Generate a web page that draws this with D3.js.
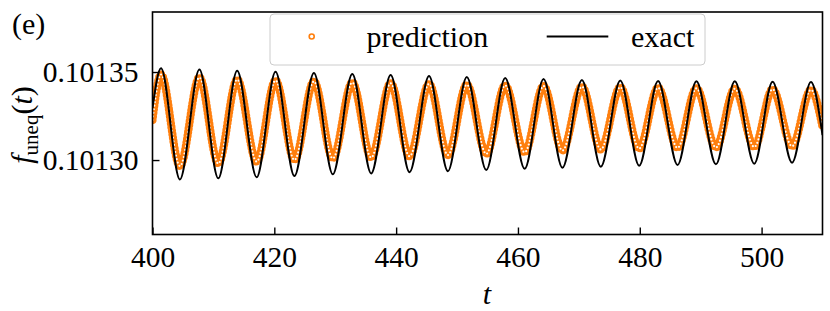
<!DOCTYPE html>
<html>
<head>
<meta charset="utf-8">
<script src="https://d3js.org/d3.v7.min.js"></script>
<style>
  body { margin: 0; background: #fff; }
</style>
</head>
<body>
<div id="chart"></div>
<script>
  // tick values
  const xTicks = [400, 420, 440, 460, 480, 500];
  const yTicks = [0.10130, 0.10135];

  // times of the maxima / minima
  const peakT = [401.4, 407.7, 413.9, 420.2, 426.5, 432.8, 439.1, 445.4, 451.6,
                 457.9, 464.2, 470.5, 476.8, 483.0, 489.3, 495.6, 501.8, 508.1];
  const troughT = [404.5, 410.8, 417.1, 423.3, 429.6, 435.9, 442.2, 448.5, 454.8,
                   461.1, 467.3, 473.6, 479.9, 486.2, 492.5, 498.8, 505.0];

  // exact solution: maxima, minima, value at t=400 and t=510
  const exactPeak = [0.1013521, 0.1013515, 0.1013507, 0.1013501, 0.1013495, 0.1013489,
                     0.1013483, 0.1013477, 0.1013472, 0.1013466, 0.1013460, 0.1013455,
                     0.1013452, 0.1013449, 0.1013448, 0.1013447, 0.1013445, 0.1013443];
  const exactTrough = [0.1012890, 0.1012896, 0.1012902, 0.1012909, 0.1012919, 0.1012924,
                       0.1012931, 0.1012937, 0.1012943, 0.1012950, 0.1012956, 0.1012962,
                       0.1012968, 0.1012972, 0.1012976, 0.1012979, 0.1012985];
  const exactEnds = [0.1013295, 0.1013142];

  // prediction: maxima, minima, ends
  const predPeak = [0.1013486, 0.1013469, 0.1013457, 0.1013452, 0.1013446, 0.1013440,
                    0.1013436, 0.1013432, 0.1013428, 0.1013424, 0.1013420, 0.1013417,
                    0.1013414, 0.1013410, 0.1013407, 0.1013405, 0.1013402, 0.1013399];
  const predTrough = [0.1012966, 0.1012980, 0.1012991, 0.1013000, 0.1013009, 0.1013014,
                      0.1013021, 0.1013028, 0.1013035, 0.1013043, 0.1013054, 0.1013060,
                      0.1013065, 0.1013069, 0.1013071, 0.1013074, 0.1013078];
  const predEnds = [0.1013227, 0.1013188];

  const width = 830, height = 311;
  const margin = { top: 12, right: 7.5, bottom: 76.5, left: 152.5 };
  const orange = "#ff7f0e";
  const serif = "'Liberation Serif', 'Times New Roman', serif";

  function buildSeries(ends, peaks, troughs) {
    const pts = [{ t: 400, v: ends[0] }];
    peakT.forEach(function (t, i) {
      pts.push({ t: t, v: peaks[i] });
      if (i < troughT.length) pts.push({ t: troughT[i], v: troughs[i] });
    });
    pts.push({ t: 510, v: ends[1] });
    return pts;
  }
  const exact = buildSeries(exactEnds, exactPeak, exactTrough);
  const pred = buildSeries(predEnds, predPeak, predTrough);

  const svg = d3.select("#chart").append("svg")
    .attr("width", width).attr("height", height);

  const x = d3.scaleLinear().domain([400, 510])
    .range([margin.left, width - margin.right]);
  const y = d3.scaleLinear().domain([0.1012577, 0.1013841])
    .range([height - margin.bottom, margin.top]);

  svg.append("clipPath").attr("id", "clip")
    .append("rect")
    .attr("x", margin.left).attr("y", margin.top)
    .attr("width", width - margin.left - margin.right)
    .attr("height", height - margin.top - margin.bottom);

  const line = d3.line()
    .x(d => x(d.t))
    .y(d => y(d.v))
    .curve(d3.curveMonotoneX);

  const plot = svg.append("g").attr("clip-path", "url(#clip)");

  // open circle markers: orange dots with white centres along the path
  plot.append("path")
    .attr("d", line(pred))
    .attr("fill", "none")
    .attr("stroke", orange)
    .attr("stroke-width", 8.2)
    .attr("stroke-linecap", "round")
    .attr("stroke-dasharray", "0 3.6");
  plot.append("path")
    .attr("d", line(pred))
    .attr("fill", "none")
    .attr("stroke", "#fff")
    .attr("stroke-width", 2.2)
    .attr("stroke-linecap", "round")
    .attr("stroke-dasharray", "0 3.6");

  plot.append("path")
    .attr("d", line(exact))
    .attr("fill", "none")
    .attr("stroke", "#000")
    .attr("stroke-width", 2);

  // axes (ticks inside)
  const xAxis = svg.append("g")
    .attr("transform", "translate(0," + (height - margin.bottom) + ")")
    .call(d3.axisBottom(x).tickValues(xTicks).tickSizeInner(-7).tickSizeOuter(0).tickPadding(11.5));
  const yAxis = svg.append("g")
    .attr("transform", "translate(" + margin.left + ",0)")
    .call(d3.axisLeft(y).tickValues(yTicks).tickFormat(d3.format(".5f"))
      .tickSizeInner(-7).tickSizeOuter(0).tickPadding(14));

  [xAxis, yAxis].forEach(function (a) {
    a.select(".domain").remove();
    a.selectAll(".tick line").attr("stroke", "#000").attr("stroke-width", 1.4);
    a.selectAll(".tick text")
      .style("font-family", serif)
      .style("font-size", "29.5px")
      .attr("fill", "#000");
  });

  // frame
  svg.append("rect")
    .attr("x", margin.left).attr("y", margin.top)
    .attr("width", width - margin.left - margin.right)
    .attr("height", height - margin.top - margin.bottom)
    .attr("fill", "none")
    .attr("stroke", "#000")
    .attr("stroke-width", 1.6);

  // axis labels
  svg.append("text")
    .attr("x", 487).attr("y", 304)
    .attr("text-anchor", "middle")
    .style("font-family", serif)
    .style("font-size", "30px")
    .style("font-style", "italic")
    .text("t");

  const yl = svg.append("text")
    .attr("transform", "translate(32,125) rotate(-90)")
    .attr("text-anchor", "middle")
    .style("font-family", serif)
    .style("font-size", "30px");
  yl.append("tspan").style("font-style", "italic").text("f");
  yl.append("tspan").style("font-size", "21px").attr("dy", 6).text("uneq");
  yl.append("tspan").attr("dy", -6).text("(");
  yl.append("tspan").style("font-style", "italic").text("t");
  yl.append("tspan").text(")");

  svg.append("text")
    .attr("x", 12).attr("y", 34)
    .style("font-family", serif)
    .style("font-size", "30px")
    .text("(e)");

  // legend
  const lg = svg.append("g");
  lg.append("rect")
    .attr("x", 270).attr("y", 14)
    .attr("width", 435).attr("height", 51)
    .attr("rx", 4)
    .attr("fill", "#fff").attr("fill-opacity", 0.8)
    .attr("stroke", "#cccccc").attr("stroke-width", 1);
  lg.append("circle")
    .attr("cx", 311.7).attr("cy", 36.5).attr("r", 2.5)
    .attr("fill", "none").attr("stroke", orange).attr("stroke-width", 1.6);
  lg.append("text").attr("x", 366.5).attr("y", 46.5)
    .style("font-family", serif).style("font-size", "30px").text("prediction");
  lg.append("line")
    .attr("x1", 546.7).attr("x2", 608.3).attr("y1", 36.5).attr("y2", 36.5)
    .attr("stroke", "#000").attr("stroke-width", 2);
  lg.append("text").attr("x", 631).attr("y", 46.5)
    .style("font-family", serif).style("font-size", "30px").text("exact");
</script>
</body>
</html>
